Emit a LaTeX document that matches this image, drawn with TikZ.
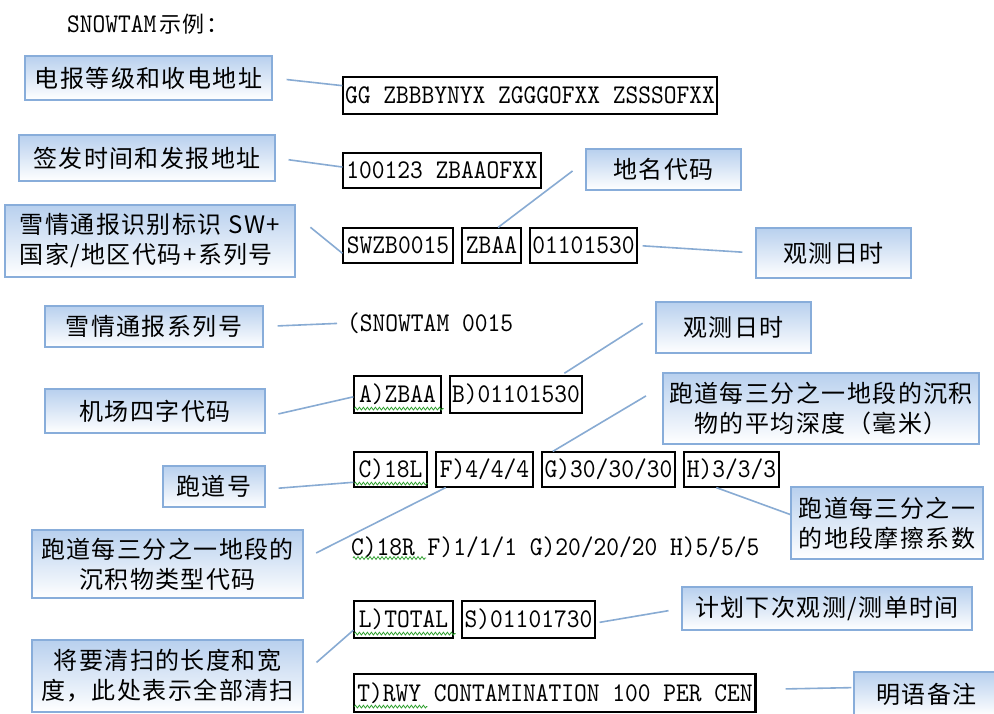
\documentclass[tikz,border=0pt]{standalone}
\usepackage{fontspec}
\usepackage{tikz}
\usepackage{xcolor}
\usetikzlibrary{calc, decorations.pathmorphing}
\newfontfamily\cjkfont{Noto Sans CJK SC}[LetterSpace=6]
\newfontfamily\codefont{lmmono10-regular.otf}[FakeStretch=0.9]
\definecolor{NoteTop}{HTML}{B8D0EE}
\definecolor{NoteEdge}{HTML}{88ADDA}
\definecolor{LeadLine}{HTML}{88ABD3}
\definecolor{SpellGreen}{HTML}{2FA02F}
\tikzset{
    % Callout boxes - blue gradient
    notebox/.style={
        rectangle,
        draw=NoteEdge,
        line width=1.4pt,
        top color=NoteTop,
        bottom color=white,
        inner sep=0pt,
        align=center,
        font=\cjkfont\fontsize{24}{30}\selectfont
    },
    % Framed message groups
    codebox/.style={
        rectangle,
        draw=black,
        line width=1.2pt,
        inner sep=0pt,
        minimum height=35pt,
        font=\codefont\fontsize{27}{30}\selectfont
    },
    codetext/.style={
        inner sep=0pt,
        anchor=west,
        font=\codefont\fontsize{27}{30}\selectfont
    },
    % Connector lines
    leader/.style={
        draw=LeadLine,
        line width=1.6pt
    },
    % Spell-check underline
    squiggle/.style={
        draw=SpellGreen,
        line width=0.8pt,
        decorate,
        decoration={zigzag, segment length=4pt, amplitude=1.4pt}
    }
}
\begin{document}
\begin{tikzpicture}[x=1pt, y=-1pt]
    \path[use as bounding box, fill=white] (0,0) rectangle (994,713);

    % Title
    \node[codetext] (title) at (67,24) {SNOWTAM\kern3pt{\cjkfont\fontsize{22}{26}\selectfont 示例：}};

    % Message lines
    \node[codebox, minimum width=374, minimum height=37] (hdr) at (530,95.5) {GG ZBBBYNYX ZGGGOFXX ZSSSOFXX};
    \node[codebox, minimum width=198] (filed) at (442,170.5) {100123 ZBAAOFXX};
    \node[codebox, minimum width=110] (swid) at (398,245.5) {SWZB0015};
    \node[codebox, minimum width=59] (swloc) at (491.5,245.5) {ZBAA};
    \node[codebox, minimum width=107] (swtime) at (583.5,245.5) {01101530};
    \node[codetext] (seq) at (347,323) {(SNOWTAM 0015};

    \node[codebox, minimum width=87, minimum height=37] (itemA) at (397.5,394.5) {A)ZBAA};
    \node[codebox, minimum width=132, minimum height=37] (itemB) at (516,394.5) {B)01101530};

    \node[codebox, minimum width=73] (itemC) at (390.5,469.5) {C)18L};
    \node[codebox, minimum width=97] (itemF) at (484.5,469.5) {F)4/4/4};
    \node[codebox, minimum width=133] (itemG) at (608.5,469.5) {G)30/30/30};
    \node[codebox, minimum width=95] (itemH) at (731.5,469.5) {H)3/3/3};
    \node[codetext] (row2) at (351,547) {C)18R F)1/1/1 G)20/20/20 H)5/5/5};

    \node[codebox, minimum width=99, minimum height=37] (itemL) at (403.5,619.5) {L)TOTAL};
    \node[codebox, minimum width=133, minimum height=37] (itemS) at (528.5,619.5) {S)01101730};
    \node[codebox, minimum width=402, minimum height=38] (itemT) at (555,693) {T)RWY CONTAMINATION 100 PER CEN};
    \draw[line width=3pt] ($(itemT.north east)+(-1,0)$) -- ($(itemT.south east)+(-1,0)$);

    % Spell-check underlines
    \draw[squiggle] ($(itemA.south west)+(1,-5)$) -- ($(itemA.south east)+(2,-5)$);
    \draw[squiggle] ($(itemC.south west)+(1,-4)$) -- ($(itemC.south east)+(0,-4)$);
    \draw[squiggle] ($(row2.west)+(2,11)$) -- ++(73,0);
    \draw[squiggle] ($(itemL.south west)+(1,-5)$) -- ($(itemL.south east)+(2,-5)$);
    \draw[squiggle] ($(itemT.south west)+(1,-6)$) -- ++(73,0);

    % Callouts (left)
    \node[notebox, minimum width=247, minimum height=44] (lvl) at (148.5,78) {电报等级和收电地址};
    \node[notebox, minimum width=256, minimum height=46] (orig) at (147,158) {签发时间和发报地址};
    \node[notebox, minimum width=290, minimum height=72, align=left] (ident) at (150,241) {雪情通报识别标识 SW+\\国家/地区代码+系列号};
    \node[notebox, minimum width=218, minimum height=41] (serial) at (154,326.5) {雪情通报系列号};
    \node[notebox, minimum width=220, minimum height=44] (aero) at (155,411) {机场四字代码};
    \node[notebox, minimum width=102, minimum height=41] (rwy) at (214,486.5) {跑道号};
    \node[notebox, minimum width=271, minimum height=68] (kind) at (167.5,564) {跑道每三分之一地段的\\沉积物类型代码};
    \node[notebox, minimum width=271, minimum height=72] (clear) at (167.5,676) {将要清扫的长度和宽\\度，此处表示全部清扫};

    % Callouts (right)
    \node[notebox, minimum width=155, minimum height=41] (loc) at (663.5,169.5) {地名代码};
    \node[notebox, minimum width=155, minimum height=50] (obs1) at (833.5,253) {观测日时};
    \node[notebox, minimum width=155, minimum height=51] (obs2) at (733.5,327.5) {观测日时};
    \node[notebox, minimum width=316, minimum height=71] (depth) at (821,408.5) {跑道每三分之一地段的沉积\\物的平均深度（毫米）};
    \node[notebox, minimum width=192, minimum height=72] (fric) at (887,523) {跑道每三分之一\\的地段摩擦系数};
    \node[notebox, minimum width=290, minimum height=43] (next) at (827,608.5) {计划下次观测/测单时间};
    \node[notebox, minimum width=145, minimum height=44] (plain) at (926.5,694) {明语备注};

    % Connectors
    \draw[leader, shorten <=14pt] (lvl.east) -- (hdr.177);
    \draw[leader, shorten <=13pt] (orig.east) -- (filed.178);
    \draw[leader, shorten <=19pt] (ident.10) -- (swid.188);
    \draw[leader, shorten >=16pt] (swloc.70) -- (loc.174);
    \draw[leader, shorten <=5pt, shorten >=13pt] (swtime.east) -- (obs1.west);
    \draw[leader, shorten <=14pt, shorten >=10pt] (serial.east) -- (seq.west);
    \draw[leader, shorten <=13pt] (aero.-3) -- (itemA.183);
    \draw[leader, shorten <=4pt, shorten >=15pt] (itemB.23) -- (obs2.171);
    \draw[leader, shorten >=19pt] (itemG.162) -- (depth.172);
    \draw[leader, shorten <=13pt] (rwy.-3) -- (itemC.199);
    \draw[leader] (itemH.230) -- (fric.175);
    \draw[leader, shorten <=14pt] (kind.2.5) -- (itemF.205);
    \draw[leader, shorten <=17pt] (clear.1) -- (itemL.192);
    \draw[leader, shorten <=4pt, shorten >=13pt] (itemS.-3) -- (next.west);
    \draw[leader, shorten <=29pt, shorten >=2pt] (itemT.1) -- (plain.175);
\end{tikzpicture}
\end{document}
